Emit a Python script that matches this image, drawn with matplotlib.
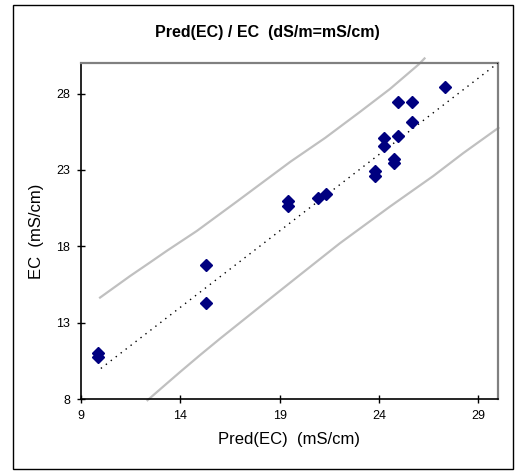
import matplotlib.pyplot as plt
from matplotlib.patches import Rectangle

plt.rcParams["font.family"] = ["Liberation Sans", "DejaVu Sans"]

# measured points
pred_ec = [9.84, 9.84, 15.28, 15.28, 19.44, 19.44, 20.92, 21.32, 23.81, 23.81,
           24.24, 24.24, 24.76, 24.76, 24.95, 24.95, 25.69, 25.69, 27.35]
ec = [10.99, 10.72, 16.80, 14.31, 20.99, 20.64, 21.18, 21.39, 22.93, 22.57,
      25.09, 24.55, 23.72, 23.48, 27.43, 25.20, 27.43, 26.12, 28.45]

# 1:1 line
one_x = [10, 30]
one_y = [10, 30]

# prediction band
upper_x = [9.96, 11.47, 12.44, 13.32, 14.83, 16.84, 19.55, 21.3, 23.05, 24.56, 26.0, 26.3]
upper_y = [14.64, 16.05, 16.91, 17.70, 19.0, 20.92, 23.54, 25.1, 26.8, 28.3, 29.9, 30.3]
lower_x = [12.35, 13.2, 14.0, 15.0, 16.0, 18.0, 20.0, 22.04, 24.56, 26.74, 28.25, 30.02]
lower_y = [7.92, 8.88, 9.78, 10.88, 11.95, 14.03, 16.1, 18.2, 20.6, 22.6, 24.1, 25.75]

xticks = [9, 14, 19, 24, 29]
yticks = [8, 13, 18, 23, 28]

fig = plt.figure(figsize=(5.16, 4.72), dpi=100)
ax = fig.add_axes([81 / 516, 73 / 472, 417 / 516, 336 / 472])

ax.plot(upper_x, upper_y, color="#c0c0c0", lw=1.6, clip_on=False, zorder=2)
ax.plot(lower_x, lower_y, color="#c0c0c0", lw=1.6, clip_on=False, zorder=2)
ax.plot(one_x, one_y, color="black", lw=1.0, linestyle=(0, (1, 3.5)), zorder=3)
ax.plot(pred_ec, ec, linestyle="none", marker="D", markersize=6.5,
        color="#000080", zorder=4)

ax.set_xlim(9, 30)
ax.set_ylim(8, 30)
ax.set_xticks(xticks)
ax.set_yticks(yticks)
ax.tick_params(direction="inout", length=6, width=1, labelsize=9, pad=5)

for s in ["left", "bottom"]:
    ax.spines[s].set_color("black")
    ax.spines[s].set_linewidth(1.2)
for s in ["top", "right"]:
    ax.spines[s].set_color("#808080")
    ax.spines[s].set_linewidth(1.6)

ax.set_xlabel("Pred(EC)  (mS/cm)", fontsize=12, labelpad=7)
ax.set_ylabel("EC  (mS/cm)", fontsize=12, labelpad=9)

fig.text(267 / 516, 1 - 32 / 472, "Pred(EC) / EC  (dS/m=mS/cm)",
         ha="center", va="center", fontsize=11.5, fontweight="bold")

fig.patches.append(Rectangle((13 / 516, 3 / 472), 500 / 516, 464 / 472,
                             transform=fig.transFigure, fill=False,
                             edgecolor="black", lw=1.0))

fig.savefig("out.png", dpi=100)
